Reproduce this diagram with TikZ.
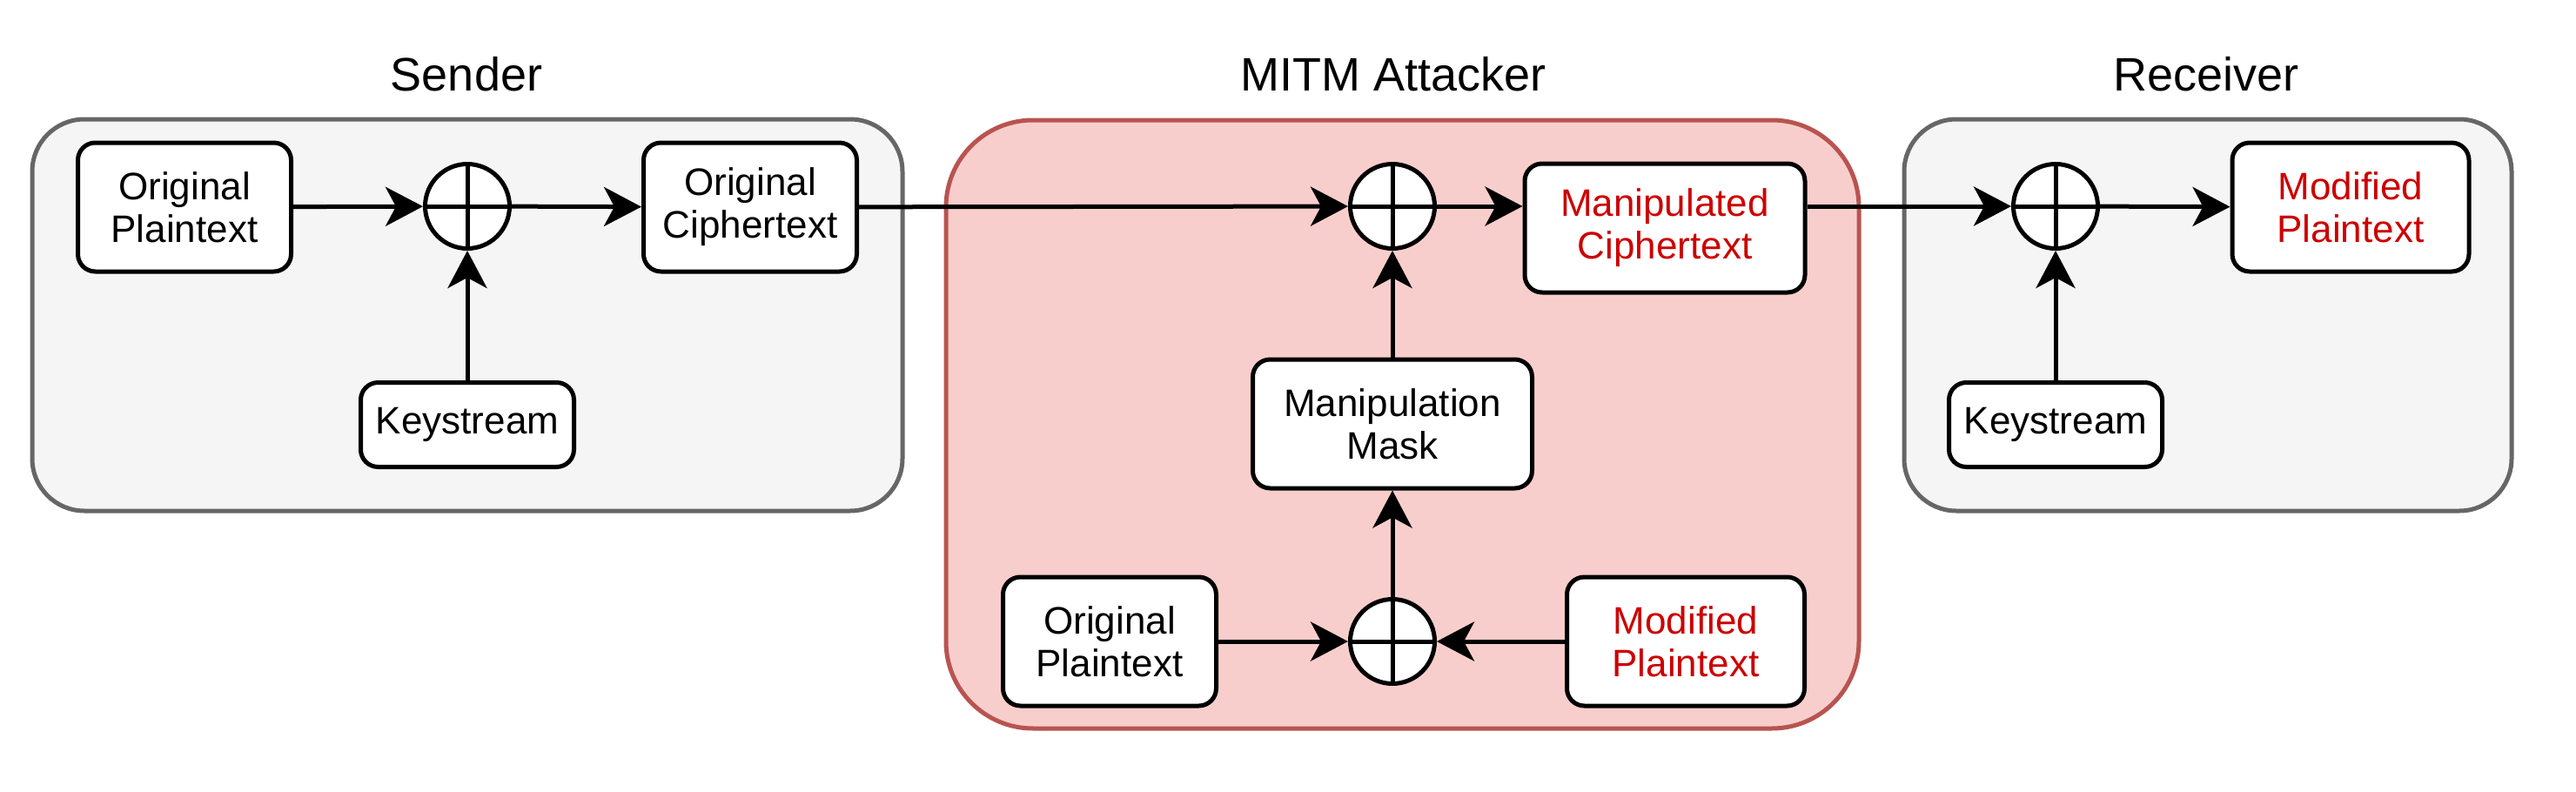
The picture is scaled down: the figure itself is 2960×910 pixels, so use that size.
\documentclass[tikz,border=0pt]{standalone}
\usepackage{fontspec}
\setmainfont{Liberation Sans}
\usetikzlibrary{arrows.meta}
\definecolor{grpfill}{HTML}{F5F5F5}
\definecolor{grpline}{HTML}{666666}
\definecolor{attfill}{HTML}{F8CECC}
\definecolor{attline}{HTML}{B85450}
\definecolor{modred}{HTML}{CC0000}
\begin{document}
\begin{tikzpicture}
        [x=0.25pt, y=-0.25pt,
        box/.style={draw, fill=white, line width=1.25pt, rounded corners=5pt, align=center,
            inner sep=0pt, minimum width=61.25pt, minimum height=37pt,
            font=\fontsize{11}{12.3}\selectfont},
        keybox/.style={box, minimum height=24.25pt},
        modbox/.style={box, text=modred},
        xor/.style={circle, draw, fill=white, line width=1.25pt, minimum size=24.25pt, inner sep=0pt,
            path picture={\draw[line width=1.25pt] (path picture bounding box.north) -- (path picture bounding box.south)
                (path picture bounding box.west) -- (path picture bounding box.east);}},
        edge/.style={line width=1.25pt, -{Stealth[length=10.75pt, width=11.25pt, inset=3pt]}},
        group/.style={line width=1.25pt, rounded corners=15pt},
        title/.style={anchor=base, font=\fontsize{13.5}{16}\selectfont}]

        \useasboundingbox (0,0) rectangle (2960,910);

        % Group frames
        \draw[group, draw=grpline, fill=grpfill] (37,137) rectangle (1037,587);
        \draw[group, draw=attline, fill=attfill, rounded corners=25pt] (1087,138) rectangle (2136,837);
        \draw[group, draw=grpline, fill=grpfill] (2188,137) rectangle (2886,587);

        \node[title] (tsend) at (536,105) {Sender};
        \node[title] (tmitm) at (1601,105) {MITM Attacker};
        \node[title] (trecv) at (2535,105) {Receiver};

        % Sender
        \node[box] (splain) at (212,238) {Original\\Plaintext};
        \node[xor] (sxor) at (537,237) {};
        \node[keybox] (skey) at (537,488) {Keystream};
        \node[box] (scipher) at (862,238) {Original\\Ciphertext};

        % Attacker
        \node[xor] (axor) at (1600,237) {};
        \node[modbox, minimum width=80.5pt] (mcipher) at (1913,262) {Manipulated\\Ciphertext};
        \node[box, minimum width=80.25pt] (mask) at (1600,487) {Manipulation\\Mask};
        \node[xor] (bxor) at (1600,737) {};
        \node[box] (aplain) at (1275,737) {Original\\Plaintext};
        \node[modbox, minimum width=68.25pt] (amod) at (1937,737) {Modified\\Plaintext};

        % Receiver
        \node[xor] (rxor) at (2362,237) {};
        \node[keybox] (rkey) at (2362,488) {Keystream};
        \node[modbox, minimum width=68pt] (rmod) at (2701,238) {Modified\\Plaintext};

        % Connectors
        \draw[edge] (splain) -- (sxor);
        \draw[edge] (skey) -- (sxor);
        \draw[edge] (sxor) -- (scipher);
        \draw[edge] (scipher) -- (axor);
        \draw[edge] (axor) -- (axor -| mcipher.west);
        \draw[edge] (mask) -- (axor);
        \draw[edge] (bxor) -- (mask);
        \draw[edge] (aplain) -- (bxor);
        \draw[edge] (amod) -- (bxor);
        \draw[edge] (mcipher.east |- rxor) -- (rxor);
        \draw[edge] (rkey) -- (rxor);
        \draw[edge] (rxor) -- (rmod);

    \end{tikzpicture}
\end{document}
